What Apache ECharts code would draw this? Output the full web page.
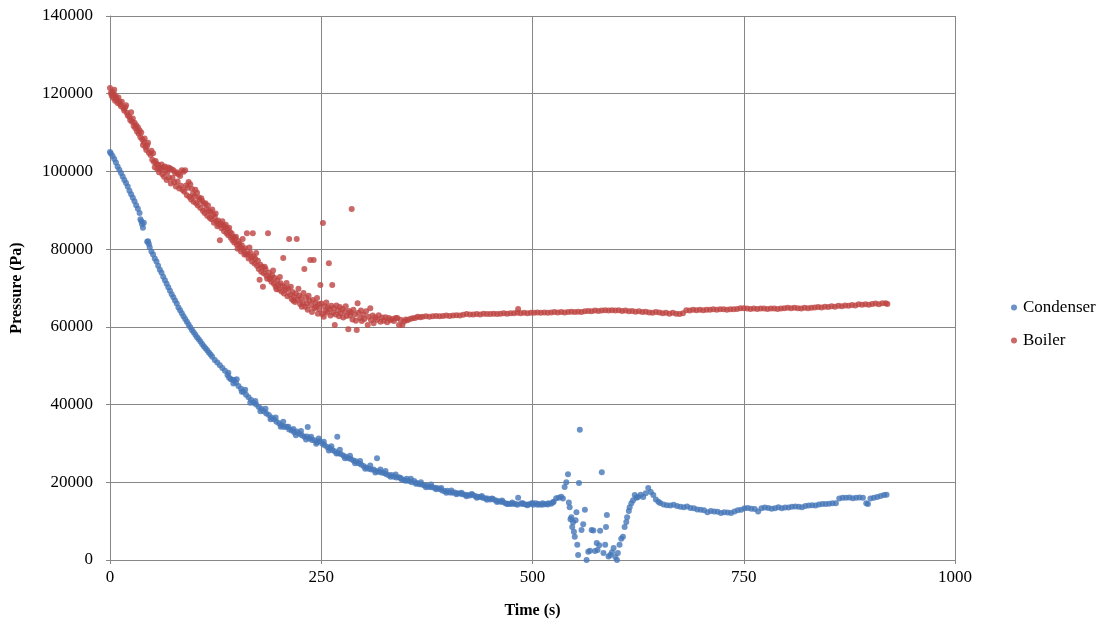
<!DOCTYPE html>
<html>
<head>
<meta charset="utf-8">
<title>Pressure vs Time</title>
<script src="https://cdn.jsdelivr.net/npm/echarts@6/dist/echarts.min.js"></script>
<style>
  html, body { margin: 0; padding: 0; background: #ffffff; }
  #chart { width: 1112px; height: 626px; }
</style>
</head>
<body>
<div id="chart"></div>
<script>
// Tick settings
const timeTicks = { min: 0, max: 1000, interval: 250 };
const pressureTicks = { min: 0, max: 140000, interval: 20000 };

const seriesNames = ['Condenser', 'Boiler'];

// Condenser pressure readings: [time (s), pressure (Pa)]
const condenser = [
  [0,105000],[1,104600],[3,104000],[5,103200],[7,102300],[9,101300],[11,100400],[13,99600],[15,98700],[17,97800],
  [19,97000],[21,96100],[23,95000],[25,94100],[27,93200],[29,92300],[31,91300],[33,90400],[35,89300],[36,87700],
  [37,87200],[38,86400],[39,85500],[40,86800],[44,81900],[45,82000],[46,81300],[47,80500],[49,79400],[51,78600],
  [53,77600],[55,76800],[57,75700],[59,74700],[61,73900],[63,72900],[65,72000],[67,71100],[69,70200],[71,69300],
  [73,68400],[75,67600],[77,66800],[79,66000],[81,65000],[83,64300],[85,63500],[87,62700],[89,62000],[91,61300],
  [93,60600],[95,59900],[97,59200],[99,58600],[101,58000],[103,57300],[105,56800],[107,56200],[109,55600],[111,55000],
  [113,54500],[115,54000],[117,53400],[119,52900],[121,52300],[124,51500],[127,50800],[130,50100],[133,49400],[136,48700],
  [139,47600],[141,46900],[143,46500],[145,46400],[147,46300],[149,45600],[152,44800],[155,44100],[158,43300],[161,42500],
  [164,41900],[167,41200],[170,40500],[173,40000],[176,39400],[179,38900],[182,38300],[185,37700],[188,37300],[191,36700],
  [194,36200],[197,35600],[200,35200],[203,34700],[206,34200],[209,34300],[212,33600],[215,33300],[218,32900],[221,33100],
  [224,32500],[227,32100],[230,31700],[233,31800],[234,34200],[236,31300],[239,30900],[242,30800],[245,30300],[248,30600],
  [251,30000],[254,29500],[257,29100],[260,28800],[263,28300],[266,28000],[269,31700],[270,27500],[273,27300],[276,26900],
  [279,26600],[282,26200],[285,26000],[288,25600],[291,25400],[294,24900],[297,24600],[300,24200],[303,23800],[306,23500],
  [309,23300],[312,23300],[315,22900],[316,26200],[318,22700],[321,22500],[324,22400],[327,22100],[330,21800],[333,21900],
  [336,21400],[339,21200],[342,21300],[345,20800],[348,20500],[351,20900],[354,20300],[357,20000],[360,20300],[363,19800],
  [366,19500],[369,19400],[372,19200],[375,19100],[378,18800],[381,18700],[384,18600],[387,18500],[390,18300],[393,17900],
  [396,17700],[399,17800],[402,17400],[405,17300],[408,17400],[411,17200],[414,17100],[417,16900],[420,16800],[423,16700],
  [426,16600],[429,16800],[432,16500],[435,16300],[438,16200],[441,16000],[444,15900],[447,15800],[450,15600],[453,15700],
  [456,15400],[459,15200],[462,15000],[465,14900],[468,14600],[471,14500],[474,14400],[477,14500],[480,14400],[483,16000],
  [486,14500],[489,14400],[492,14300],[495,14300],[498,14500],[501,14200],[504,14600],[507,14400],[510,14200],[513,14300],
  [516,14400],[519,14600],[522,14500],[525,15000],[528,15900],[531,16000],[534,16300],[536,15800],[538,18800],[540,20000],
  [542,22100],[543,14800],[544,13600],[545,10500],[546,11000],[547,8500],[548,9700],[549,7300],[550,6000],[551,10200],
  [552,12300],[553,3900],[554,1300],[555,19800],[556,33500],[558,7700],[560,9200],[562,12900],[564,0],[566,2100],
  [568,2400],[570,7700],[572,7600],[574,2300],[576,4400],[577,2600],[579,3800],[580,7500],[582,22600],[584,1800],
  [586,3900],[587,8500],[588,11600],[590,900],[592,1300],[594,2000],[596,3100],[598,800],[600,0],[601,1800],
  [603,3900],[605,5500],[607,6000],[609,8500],[611,9800],[612,11000],[614,12600],[615,13600],[617,14600],[619,15400],
  [621,16700],[623,16000],[625,16200],[628,16800],[631,16200],[634,17200],[637,18500],[640,17500],[643,16700],[646,15600],
  [649,15000],[651,14700],[655,14300],[659,14100],[663,14000],[667,14200],[671,13900],[675,13700],[679,13600],[683,13800],
  [687,13400],[691,13300],[695,13000],[699,12900],[703,12800],[707,12300],[711,12600],[715,12500],[719,12400],[723,12100],
  [727,12300],[731,12200],[735,12100],[739,12500],[743,12800],[747,12900],[751,13300],[755,13400],[759,13200],[763,13100],
  [767,12500],[771,13300],[775,13500],[779,13400],[783,13200],[787,13300],[791,13600],[795,13300],[799,13500],[803,13500],
  [807,13700],[811,13800],[815,13700],[819,13600],[823,13900],[827,14000],[831,14100],[835,14000],[839,14300],[843,14400],
  [847,14400],[851,14500],[855,14600],[859,14600],[863,15800],[867,16000],[871,16000],[875,16100],[879,15900],[883,16000],
  [887,16100],[891,16000],[895,14600],[897,14400],[900,15800],[904,16000],[908,16200],[912,16500],[916,16700],[919,16800],
  // readings logged between the main samples
  [140,48200],[146,45400],[150,46500],[156,43300],[160,43800],[166,40500],[172,40900],[178,38300],[184,38900],[190,36200],
  [196,36700],[202,34300],[205,35600],[211,34300],[217,33700],[220,32100],[226,33200],[232,31000],[238,31700],[244,29900],
  [247,31300],[253,30400],[259,28200],[262,29300],[268,27400],[272,28400],[278,26200],[284,26800],[290,24900],[296,25500],
  [302,23500],[308,24300],[314,22500],[320,23300],[326,22900],[332,21400],[338,22000],[344,21100],[350,20400],[356,20900],
  [362,19600],[368,20000],[374,18700],[380,19400],[386,18200],[392,18500],[398,17300],[404,17900],[410,16900],[416,17300],
  [422,16400],[428,17000],[434,16000],[440,16500],[446,15500],[452,15800],[458,14900],[464,15300],[470,14400],[476,14800],
  [482,14200],[488,14700],[494,14100],[500,14700],[506,14200],[512,14600],[518,14300],[524,14800]
];

// Boiler pressure readings: [time (s), pressure (Pa)]
const boiler = [
  [0,121500],[1,120200],[2,119500],[3,120500],[4,118900],[5,119800],[6,118200],[7,119200],[8,118500],[9,117600],
  [10,119000],[12,117300],[13,116800],[14,117900],[16,116200],[17,115600],[18,116500],[20,115100],[21,114400],[23,114000],
  [24,113200],[26,112800],[27,113600],[28,111700],[30,111100],[31,111900],[32,110300],[34,109700],[35,110600],[36,108800],
  [38,108300],[39,106800],[40,107600],[42,106200],[43,105500],[44,106700],[46,104800],[48,104200],[49,105300],[50,103000],
  [52,102400],[53,101100],[54,102700],[56,100600],[57,101700],[58,99800],[59,100900],[60,100500],[62,99300],[63,101100],
  [64,98600],[66,100200],[67,97800],[68,99700],[70,98400],[71,100800],[72,96900],[74,98300],[75,100300],[76,97200],
  [78,96100],[79,99800],[80,97400],[82,95600],[83,98800],[84,96300],[86,95200],[87,99900],[88,94800],[90,96400],
  [91,93900],[92,95800],[94,93400],[95,96700],[96,92800],[98,94100],[99,92200],[100,93600],[102,91800],[103,94500],
  [104,91200],[106,92700],[107,90600],[108,93100],[110,89900],[111,91700],[112,89300],[114,90400],[115,88600],[116,91200],
  [118,88100],[119,89600],[120,87700],[122,88900],[123,86800],[124,88300],[126,87100],[127,85900],[128,87400],[130,82300],
  [131,86600],[132,85400],[134,86100],[135,84600],[136,85700],[138,84100],[139,85200],[140,83600],[142,84400],[143,82900],
  [144,84000],[146,83100],[147,81700],[148,82800],[150,81200],[151,80100],[152,82100],[154,80500],[155,79400],[156,81000],
  [158,79800],[159,78600],[160,80200],[162,84100],[163,78900],[164,77600],[166,79100],[167,77900],[168,76800],[169,84100],
  [170,78200],[171,76300],[172,77500],[174,75700],[175,77000],[176,74900],[177,72100],[178,76000],[179,74200],[180,75400],
  [181,70300],[182,73800],[184,74900],[185,73200],[186,72400],[187,84100],[188,74000],[190,72700],[191,71600],[192,73300],
  [194,71100],[195,72600],[196,70400],[198,72000],[199,70800],[200,69600],[202,71200],[203,69100],[204,70500],[205,77700],
  [206,68600],[207,70100],[208,69500],[210,67900],[211,69800],[212,82600],[213,68300],[214,70300],[215,67200],[216,69000],
  [218,67700],[219,66400],[220,68600],[221,82600],[222,67000],[224,68100],[225,65900],[226,67400],[228,66300],[229,68700],
  [230,74900],[231,65200],[232,67500],[233,66000],[234,64400],[236,66700],[237,77200],[238,65500],[239,63800],[240,66900],
  [241,77200],[242,64800],[243,66200],[244,65100],[246,63400],[247,65800],[248,64500],[249,70800],[250,66000],[252,86700],
  [253,62600],[254,65300],[255,64100],[256,66300],[257,63700],[258,65000],[259,76400],[260,64500],[261,62900],[262,65400],
  [263,70800],[264,63600],[265,64800],[266,60500],[267,63200],[268,65500],[270,64200],[271,62700],[272,65100],[273,63500],
  [275,64600],[276,62400],[278,63900],[279,65300],[280,62800],[282,59400],[283,64100],[284,62900],[285,63700],[286,90300],
  [287,61900],[288,64400],[290,63200],[291,61600],[292,59200],[293,66100],[294,63600],[296,62300],[297,64200],[298,61500],
  [300,63100],[301,62000],[303,64000],[305,60500],[306,62600],[308,64800],[309,61700],[311,62900],[312,60900],[314,62400],
  [316,61800],[318,63000],[320,61300],[322,62400],[324,61600],[326,62500],[328,61200],[330,62300],[332,61700],[334,62000],
  [336,61500],[338,62300],[340,62300],[342,60500],[344,61800],[346,60500],[348,61400],[350,61900],[352,61700],[355,62000],
  [358,62200],[361,62300],[364,62600],[367,62500],[370,62600],[374,62700],[378,62600],[382,62700],[386,62800],[390,62700],
  [394,62800],[398,62900],[402,62800],[406,62900],[410,63000],[414,62900],[418,63100],[422,63300],[426,63200],[430,63200],
  [434,63300],[438,63200],[442,63400],[446,63300],[450,63300],[454,63400],[458,63300],[462,63400],[466,63500],[470,63400],
  [474,63500],[478,63500],[482,63600],[483,64600],[486,63500],[490,63600],[494,63500],[498,63600],[502,63600],[506,63700],
  [510,63600],[514,63700],[518,63600],[522,63700],[526,63800],[530,63700],[534,63800],[538,63700],[542,63800],[546,63900],
  [550,63800],[554,63900],[558,63800],[562,64000],[566,64100],[570,64000],[574,64200],[578,64100],[582,64200],[586,64300],
  [590,64200],[594,64300],[598,64200],[602,64300],[606,64100],[610,64200],[614,64000],[618,64100],[622,63900],[626,64000],
  [630,63800],[634,63900],[638,63700],[642,63600],[646,63800],[650,63700],[654,63500],[658,63600],[662,63400],[666,63600],
  [670,63400],[674,63300],[678,63500],[682,64300],[686,64200],[690,64400],[694,64300],[698,64400],[702,64300],[706,64400],
  [710,64400],[714,64500],[718,64400],[722,64500],[726,64500],[730,64400],[734,64500],[738,64500],[742,64600],[746,64800],
  [750,64800],[754,64700],[758,64600],[762,64700],[766,64600],[770,64700],[774,64700],[778,64600],[782,64700],[786,64700],
  [790,64600],[794,64700],[798,64800],[802,64900],[806,64800],[810,64900],[814,64800],[818,64700],[822,64900],[826,64800],
  [830,64900],[834,65000],[838,65100],[842,65000],[846,65200],[850,65100],[854,65300],[858,65200],[862,65400],[866,65300],
  [870,65500],[874,65400],[878,65600],[882,65500],[886,65800],[890,65700],[894,65800],[898,65700],[902,65900],[906,66000],
  [910,65800],[914,66100],[918,66100],[920,65900],
  // readings logged between the main samples
  [5,121000],[11,118000],[19,117000],[25,115200],[29,112500],[33,111400],[37,110000],[41,108500],[45,107400],[51,104700],
  [55,101900],[61,101800],[65,101300],[69,101000],[73,100500],[77,99500],[81,99300],[85,100300],[89,100300],[93,97300],
  [97,95500],[101,95300],[105,93300],[109,92400],[113,91800],[117,89800],[121,90200],[125,89200],[129,86300],[133,87200],
  [137,86300],[141,85500],[145,82300],[149,83200],[153,81400],[157,82600],[161,78600],[165,80400],[173,79000],[183,75500],
  [189,72300],[193,74500],[197,69700],[201,72800],[209,71300],[217,66700],[223,69800],[227,65200],[235,68000],[245,67400],
  [251,63300]
];

const FONT = '"Liberation Serif", "Times New Roman", serif';
const GRID_COLOR = '#878787';

const chart = echarts.init(document.getElementById('chart'), null, { renderer: 'canvas' });

const plainNumber = (v) => String(v);

chart.setOption({
  animation: false,
  backgroundColor: '#ffffff',
  textStyle: { fontFamily: FONT },
  grid: { left: 110, right: 157, top: 16, bottom: 66, containLabel: false },
  legend: {
    orient: 'vertical',
    left: 1006,
    top: 294,
    icon: 'circle',
    itemWidth: 6,
    itemHeight: 6,
    itemGap: 16,
    data: seriesNames,
    textStyle: { fontFamily: FONT, fontSize: 17, color: '#000000', padding: [0, 0, 0, 1] }
  },
  xAxis: {
    type: 'value',
    min: timeTicks.min,
    max: timeTicks.max,
    interval: timeTicks.interval,
    name: 'Time (s)',
    nameLocation: 'middle',
    nameGap: 43,
    nameTextStyle: { fontFamily: FONT, fontSize: 16, fontWeight: 'bold', color: '#000000' },
    axisLine: { show: true, lineStyle: { color: GRID_COLOR, width: 1 } },
    axisTick: { show: true, length: 4, lineStyle: { color: GRID_COLOR } },
    axisLabel: { fontFamily: FONT, fontSize: 17, color: '#000000', margin: 9, formatter: plainNumber },
    splitLine: { show: true, lineStyle: { color: GRID_COLOR, width: 1 } }
  },
  yAxis: {
    type: 'value',
    min: pressureTicks.min,
    max: pressureTicks.max,
    interval: pressureTicks.interval,
    name: 'Pressure (Pa)',
    nameLocation: 'middle',
    nameGap: 85,
    nameTextStyle: { fontFamily: FONT, fontSize: 16, fontWeight: 'bold', color: '#000000' },
    axisLine: { show: true, lineStyle: { color: GRID_COLOR, width: 1 } },
    axisTick: { show: true, length: 4, lineStyle: { color: GRID_COLOR } },
    axisLabel: { fontFamily: FONT, fontSize: 17, color: '#000000', margin: 17, formatter: plainNumber },
    splitLine: { show: true, lineStyle: { color: GRID_COLOR, width: 1 } }
  },
  series: [
    {
      name: seriesNames[0],
      type: 'scatter',
      data: condenser,
      symbol: 'circle',
      symbolSize: 6,
      itemStyle: { color: '#4677b8' },
      emphasis: { disabled: true }
    },
    {
      name: seriesNames[1],
      type: 'scatter',
      data: boiler,
      symbol: 'circle',
      symbolSize: 6,
      itemStyle: { color: '#bd4441' },
      emphasis: { disabled: true }
    }
  ]
});
</script>
</body>
</html>
